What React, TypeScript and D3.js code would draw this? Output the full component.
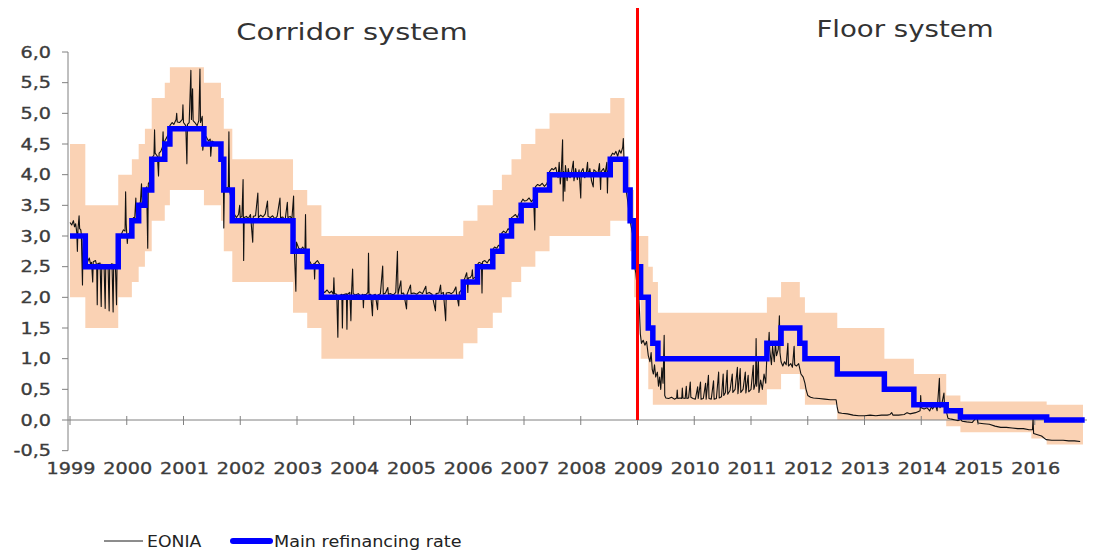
import React from 'react';
import * as d3 from 'd3';

// ---------- data (decimal years) ----------
const YEARS = [1999, 2000, 2001, 2002, 2003, 2004, 2005, 2006, 2007, 2008, 2009, 2010, 2011, 2012, 2013, 2014, 2015, 2016];
const Y_TICKS = [-0.5, 0, 0.5, 1, 1.5, 2, 2.5, 3, 3.5, 4, 4.5, 5, 5.5, 6];
const END_DATE = 2016.85;
const REGIME_CHANGE = 2009.0;
const TITLES = ['Corridor system', 'Floor system'];
const LEGEND = ['EONIA', 'Main refinancing rate'];

const CORRIDOR_DATES = [1999.0, 1999.27, 1999.85, 2000.09, 2000.21, 2000.32, 2000.44, 2000.67, 2000.76, 2001.36, 2001.66, 2001.71, 2001.86, 2002.93, 2003.18, 2003.43, 2005.93, 2006.18, 2006.45, 2006.61, 2006.78, 2006.95, 2007.2, 2007.45, 2008.52, 2008.77, 2008.87, 2008.94, 2009.055, 2009.19, 2009.27, 2009.36, 2011.28, 2011.53, 2011.86, 2011.95, 2012.52, 2013.35, 2013.87, 2014.44, 2014.69, 2015.94, 2016.21];
const DEPOSIT_RATE = [2.0, 1.5, 2.0, 2.25, 2.5, 2.75, 3.25, 3.5, 3.75, 3.5, 3.25, 2.75, 2.25, 1.75, 1.5, 1.0, 1.25, 1.5, 1.75, 2.0, 2.25, 2.5, 2.75, 3.0, 3.25, 3.25, 2.75, 2.0, 1.0, 0.5, 0.25, 0.25, 0.5, 0.75, 0.5, 0.25, 0.0, 0.0, 0.0, -0.1, -0.2, -0.3, -0.4];
const LENDING_RATE = [4.5, 3.5, 4.0, 4.25, 4.5, 4.75, 5.25, 5.5, 5.75, 5.5, 5.25, 4.75, 4.25, 3.75, 3.5, 3.0, 3.25, 3.5, 3.75, 4.0, 4.25, 4.5, 4.75, 5.0, 5.25, 4.25, 3.75, 3.0, 3.0, 2.5, 2.25, 1.75, 2.0, 2.25, 2.0, 1.75, 1.5, 1.0, 0.75, 0.4, 0.3, 0.3, 0.25];

const MRO_DATES = [1999.0, 1999.27, 1999.85, 2000.09, 2000.21, 2000.32, 2000.44, 2000.67, 2000.76, 2001.36, 2001.66, 2001.71, 2001.86, 2002.93, 2003.18, 2003.43, 2005.93, 2006.18, 2006.45, 2006.61, 2006.78, 2006.95, 2007.2, 2007.45, 2008.52, 2008.79, 2008.87, 2008.94, 2009.055, 2009.19, 2009.27, 2009.36, 2011.28, 2011.53, 2011.86, 2011.95, 2012.52, 2013.35, 2013.87, 2014.44, 2014.69, 2016.21];
const MRO_RATE = [3.0, 2.5, 3.0, 3.25, 3.5, 3.75, 4.25, 4.5, 4.75, 4.5, 4.25, 3.75, 3.25, 2.75, 2.5, 2.0, 2.25, 2.5, 2.75, 3.0, 3.25, 3.5, 3.75, 4.0, 4.25, 3.75, 3.25, 2.5, 2.0, 1.5, 1.25, 1.0, 1.25, 1.5, 1.25, 1.0, 0.75, 0.5, 0.25, 0.15, 0.05, 0.0];

const EONIA: [number, number][] = [
  [1999.00, 3.22], [1999.03, 3.18], [1999.06, 3.25], [1999.08, 3.15], [1999.10, 3.20], [1999.12, 3.05], [1999.13, 2.75], [1999.14, 3.10], [1999.16, 3.33], [1999.17, 3.12], [1999.19, 3.10], [1999.20, 3.02], [1999.22, 2.20], [1999.23, 2.95], [1999.26, 2.85],
  [1999.28, 2.62], [1999.31, 2.58], [1999.34, 2.64], [1999.36, 2.55], [1999.38, 2.57], [1999.40, 2.25], [1999.41, 2.58], [1999.45, 2.60], [1999.47, 2.52], [1999.48, 1.88], [1999.49, 2.55], [1999.53, 2.56], [1999.55, 1.85], [1999.56, 2.54], [1999.60, 2.52], [1999.62, 1.82], [1999.63, 2.50], [1999.67, 2.53], [1999.69, 1.78], [1999.70, 2.52], [1999.74, 2.55], [1999.76, 1.76], [1999.77, 2.54], [1999.80, 2.52], [1999.82, 1.88], [1999.83, 2.60],
  [1999.86, 3.00], [1999.90, 3.02], [1999.94, 3.10], [1999.97, 3.08], [1999.98, 3.72], [1999.99, 3.20], [2000.01, 2.88], [2000.02, 3.02], [2000.05, 3.05],
  [2000.09, 3.25], [2000.12, 3.30], [2000.14, 3.28], [2000.16, 3.62], [2000.17, 3.30], [2000.21, 3.50], [2000.24, 3.55], [2000.26, 3.85], [2000.27, 3.52], [2000.30, 3.58], [2000.32, 3.75], [2000.35, 3.80], [2000.37, 2.80], [2000.38, 3.85], [2000.41, 3.90], [2000.43, 4.00],
  [2000.45, 4.28], [2000.48, 4.32], [2000.49, 4.73], [2000.50, 4.35], [2000.54, 4.30], [2000.56, 3.98], [2000.57, 4.35], [2000.60, 4.38], [2000.63, 4.45], [2000.64, 4.70], [2000.65, 4.45], [2000.67, 4.55], [2000.70, 4.60], [2000.73, 4.65],
  [2000.76, 4.80], [2000.80, 4.85], [2000.83, 4.82], [2000.87, 4.90], [2000.88, 5.00], [2000.89, 4.86], [2000.93, 4.85], [2000.98, 4.90], [2000.99, 5.14], [2001.00, 4.85], [2001.04, 4.80], [2001.06, 4.18], [2001.07, 4.82], [2001.10, 4.85], [2001.13, 5.70], [2001.14, 4.90], [2001.16, 5.40], [2001.17, 4.88], [2001.20, 4.85], [2001.24, 4.80], [2001.27, 4.88], [2001.29, 5.72], [2001.30, 4.85], [2001.33, 4.95], [2001.34, 4.40],
  [2001.36, 4.60], [2001.40, 4.62], [2001.44, 4.55], [2001.47, 4.58], [2001.48, 4.30], [2001.50, 4.55], [2001.55, 4.52], [2001.60, 4.48], [2001.63, 4.50], [2001.66, 4.30], [2001.68, 4.28], [2001.70, 4.25], [2001.71, 3.13], [2001.72, 3.80], [2001.76, 3.78], [2001.79, 3.80], [2001.80, 4.70], [2001.81, 3.75], [2001.84, 3.60],
  [2001.86, 3.40], [2001.90, 3.35], [2001.93, 3.30], [2001.97, 3.35], [2001.99, 3.50], [2002.00, 3.30], [2002.03, 3.32], [2002.05, 3.92], [2002.06, 2.60], [2002.07, 3.30], [2002.11, 3.32], [2002.14, 3.28], [2002.18, 3.35], [2002.22, 2.90], [2002.23, 3.32], [2002.27, 3.33], [2002.31, 3.70], [2002.32, 3.30], [2002.36, 3.34], [2002.40, 3.31], [2002.44, 3.36], [2002.48, 3.57], [2002.49, 3.32], [2002.53, 3.30], [2002.57, 3.33], [2002.61, 3.28], [2002.65, 3.32], [2002.70, 3.62], [2002.71, 3.30], [2002.75, 3.31], [2002.79, 3.25], [2002.83, 3.55], [2002.84, 3.30], [2002.88, 3.32], [2002.91, 3.28],
  [2002.94, 3.65], [2002.95, 2.85], [2002.98, 2.10], [2002.99, 2.90], [2003.03, 2.80], [2003.07, 2.78], [2003.10, 2.82], [2003.14, 2.76], [2003.15, 3.35], [2003.16, 2.70],
  [2003.19, 2.55], [2003.23, 2.58], [2003.26, 2.52], [2003.30, 2.55], [2003.31, 2.30], [2003.32, 2.56], [2003.36, 2.60], [2003.40, 2.54],
  [2003.43, 2.20], [2003.45, 2.10], [2003.49, 2.08], [2003.53, 2.12], [2003.57, 2.07], [2003.61, 2.10], [2003.64, 2.05], [2003.65, 2.32], [2003.66, 2.06], [2003.70, 2.05], [2003.72, 1.35], [2003.73, 2.02], [2003.79, 2.05], [2003.80, 1.50], [2003.81, 2.04], [2003.87, 2.06], [2003.88, 1.48], [2003.89, 2.05], [2003.93, 2.08], [2003.95, 1.62], [2003.96, 2.05], [2003.98, 2.46], [2003.99, 2.06],
  [2004.03, 2.04], [2004.08, 2.06], [2004.12, 2.02], [2004.16, 2.05], [2004.17, 1.83], [2004.18, 2.04], [2004.22, 2.05], [2004.25, 2.08], [2004.26, 2.72], [2004.27, 2.04], [2004.30, 2.05], [2004.33, 1.70], [2004.34, 2.03], [2004.38, 2.05], [2004.42, 1.80], [2004.43, 2.04], [2004.47, 2.06], [2004.51, 2.51], [2004.52, 2.05], [2004.56, 2.07], [2004.60, 2.16], [2004.61, 2.05], [2004.65, 2.06], [2004.70, 2.04], [2004.74, 2.08], [2004.77, 2.75], [2004.78, 2.05], [2004.83, 2.27], [2004.84, 2.06], [2004.88, 2.07], [2004.93, 1.81], [2004.94, 2.05],
  [2005.00, 2.20], [2005.01, 2.06], [2005.06, 2.07], [2005.11, 2.05], [2005.16, 2.09], [2005.21, 2.06], [2005.27, 2.18], [2005.28, 2.06], [2005.33, 2.08], [2005.38, 2.05], [2005.44, 1.78], [2005.45, 2.06], [2005.50, 2.07], [2005.53, 2.20], [2005.54, 2.06], [2005.58, 2.08], [2005.62, 1.62], [2005.63, 2.07], [2005.68, 2.08], [2005.72, 2.06], [2005.76, 2.09], [2005.80, 2.17], [2005.81, 2.07], [2005.85, 1.86], [2005.86, 2.08], [2005.90, 2.12],
  [2005.93, 2.25], [2005.96, 2.32], [2005.99, 2.40], [2006.00, 2.30], [2006.01, 2.08], [2006.02, 2.32], [2006.05, 2.32], [2006.08, 2.36], [2006.09, 2.45], [2006.10, 2.30], [2006.14, 2.33], [2006.17, 2.38],
  [2006.19, 2.55], [2006.21, 2.57], [2006.25, 2.55], [2006.26, 2.07], [2006.27, 2.58], [2006.31, 2.60], [2006.35, 2.56], [2006.39, 2.62], [2006.42, 2.58],
  [2006.45, 2.78], [2006.48, 2.82], [2006.52, 2.80], [2006.55, 2.85], [2006.58, 2.83], [2006.61, 3.05], [2006.64, 3.08], [2006.68, 3.05], [2006.72, 3.12], [2006.75, 3.09],
  [2006.78, 3.30], [2006.81, 3.32], [2006.85, 3.35], [2006.88, 3.30], [2006.92, 3.38], [2006.95, 3.55], [2006.98, 3.60], [2007.01, 3.57], [2007.05, 3.58], [2007.09, 3.62], [2007.13, 3.56], [2007.17, 3.60], [2007.19, 3.10],
  [2007.20, 3.80], [2007.24, 3.84], [2007.28, 3.82], [2007.32, 3.86], [2007.36, 3.81], [2007.40, 3.85], [2007.43, 3.92],
  [2007.45, 4.05], [2007.49, 4.10], [2007.52, 4.08], [2007.56, 4.12], [2007.60, 3.95], [2007.62, 4.20], [2007.64, 3.85], [2007.66, 4.10], [2007.68, 4.57], [2007.69, 3.57], [2007.70, 4.05], [2007.72, 3.73], [2007.73, 4.15], [2007.76, 3.90], [2007.78, 4.10], [2007.81, 3.95], [2007.84, 4.05], [2007.87, 4.22], [2007.88, 3.90], [2007.91, 4.10], [2007.94, 3.92], [2007.97, 4.08],
  [2008.00, 3.62], [2008.01, 4.05], [2008.04, 4.10], [2008.07, 3.95], [2008.10, 4.05], [2008.12, 4.20], [2008.13, 3.98], [2008.16, 4.10], [2008.19, 3.90], [2008.22, 3.80], [2008.23, 4.08], [2008.27, 4.05], [2008.30, 4.00], [2008.33, 4.18], [2008.35, 3.76], [2008.36, 4.05], [2008.40, 4.10], [2008.43, 4.02], [2008.46, 4.20], [2008.47, 3.70], [2008.48, 4.05], [2008.51, 4.15],
  [2008.53, 4.30], [2008.56, 4.35], [2008.59, 4.33], [2008.62, 4.38], [2008.65, 4.30], [2008.68, 4.40], [2008.71, 4.35], [2008.74, 4.45], [2008.75, 4.59], [2008.76, 4.30], [2008.78, 3.90], [2008.80, 3.75], [2008.83, 3.55], [2008.86, 3.30], [2008.89, 3.15], [2008.92, 3.00], [2008.95, 2.50], [2008.97, 2.40], [2008.99, 2.20],
  [2009.01, 2.30], [2009.03, 1.90], [2009.05, 1.40], [2009.07, 1.25], [2009.10, 1.30], [2009.13, 1.22], [2009.16, 1.28], [2009.19, 1.05], [2009.22, 0.95], [2009.24, 1.10], [2009.26, 0.82], [2009.28, 0.75], [2009.30, 0.90], [2009.32, 0.70], [2009.35, 0.78], [2009.37, 0.55], [2009.39, 0.70], [2009.41, 0.50], [2009.43, 0.85], [2009.45, 0.60], [2009.47, 1.38], [2009.48, 0.40], [2009.50, 0.36],
  [2009.55, 0.35], [2009.60, 0.37], [2009.65, 0.34], [2009.69, 0.36], [2009.70, 0.49], [2009.71, 0.35], [2009.75, 0.36], [2009.78, 0.35], [2009.79, 0.52], [2009.80, 0.36], [2009.84, 0.35], [2009.86, 0.55], [2009.87, 0.35], [2009.90, 0.36], [2009.93, 0.62], [2009.94, 0.37], [2009.98, 0.35],
  [2010.02, 0.34], [2010.06, 0.54], [2010.07, 0.35], [2010.11, 0.62], [2010.12, 0.34], [2010.16, 0.35], [2010.20, 0.60], [2010.21, 0.34], [2010.25, 0.73], [2010.26, 0.35], [2010.30, 0.34], [2010.34, 0.64], [2010.35, 0.34], [2010.39, 0.35], [2010.43, 0.78], [2010.44, 0.36], [2010.48, 0.38], [2010.51, 0.75], [2010.52, 0.40], [2010.55, 0.45], [2010.58, 0.81], [2010.59, 0.42], [2010.63, 0.48], [2010.67, 0.75], [2010.68, 0.45], [2010.72, 0.50], [2010.76, 0.86], [2010.77, 0.43], [2010.81, 0.84], [2010.82, 0.45], [2010.86, 0.50], [2010.90, 0.78], [2010.91, 0.44], [2010.95, 0.73], [2010.96, 0.46],
  [2011.00, 0.50], [2011.04, 0.89], [2011.05, 0.50], [2011.08, 0.60], [2011.09, 1.33], [2011.10, 0.55], [2011.13, 1.00], [2011.14, 0.45], [2011.17, 0.65], [2011.20, 0.50], [2011.23, 0.75], [2011.26, 0.60], [2011.28, 1.05], [2011.30, 1.10], [2011.32, 1.43], [2011.33, 1.15], [2011.36, 0.90], [2011.38, 1.20], [2011.41, 0.95], [2011.43, 1.25], [2011.45, 1.05], [2011.48, 1.15], [2011.50, 1.70], [2011.51, 1.10], [2011.53, 0.95], [2011.56, 0.88], [2011.59, 0.95], [2011.62, 0.90], [2011.65, 1.25], [2011.66, 0.88], [2011.70, 0.92], [2011.73, 0.86], [2011.76, 1.20], [2011.77, 0.90], [2011.80, 0.88], [2011.84, 0.92], [2011.88, 0.75], [2011.92, 0.70], [2011.95, 0.60], [2011.97, 0.50],
  [2012.00, 0.40], [2012.05, 0.37], [2012.10, 0.36], [2012.20, 0.35], [2012.30, 0.34], [2012.40, 0.33], [2012.50, 0.33], [2012.52, 0.20], [2012.54, 0.12], [2012.60, 0.11], [2012.70, 0.10], [2012.80, 0.08], [2012.90, 0.07],
  [2013.00, 0.07], [2013.10, 0.08], [2013.20, 0.07], [2013.30, 0.08], [2013.40, 0.08], [2013.45, 0.09], [2013.48, 0.12], [2013.50, 0.08], [2013.60, 0.08], [2013.70, 0.09], [2013.75, 0.12], [2013.80, 0.10], [2013.90, 0.12], [2013.98, 0.15], [2013.99, 0.40],
  [2014.00, 0.20], [2014.05, 0.18], [2014.10, 0.20], [2014.15, 0.15], [2014.18, 0.22], [2014.20, 0.18], [2014.25, 0.25], [2014.28, 0.15], [2014.32, 0.68], [2014.33, 0.20], [2014.36, 0.25], [2014.40, 0.44], [2014.41, 0.22], [2014.44, 0.15], [2014.47, 0.03],
  [2014.50, 0.02], [2014.55, 0.01], [2014.60, 0.00], [2014.65, -0.01], [2014.70, 0.01], [2014.72, -0.02], [2014.80, -0.03], [2014.90, -0.04], [2014.98, 0.05],
  [2015.00, -0.05], [2015.10, -0.06], [2015.20, -0.07], [2015.30, -0.10], [2015.40, -0.12], [2015.50, -0.12], [2015.60, -0.13], [2015.70, -0.14], [2015.80, -0.14], [2015.90, -0.16], [2015.96, -0.16], [2015.97, 0.03], [2015.98, -0.22],
  [2016.05, -0.24], [2016.12, -0.26], [2016.20, -0.32], [2016.30, -0.33], [2016.40, -0.33], [2016.50, -0.33], [2016.60, -0.34], [2016.70, -0.34], [2016.80, -0.35],
];

// ---------- styling ----------
const FONT = "'DejaVu Sans', Verdana, sans-serif";
const BAND = '#FAD2B4';
const AXIS = '#808080';
const TEXT = '#3c3c3c';
const SX = 1.2; // horizontal text stretch of the original

export default function App() {
  const width = 1096;
  const height = 552;
  const x = d3.scaleLinear().domain([1999, 2016]).range([70, 1034.75]);
  const y = d3.scaleLinear().domain([-0.5, 6]).range([450.67, 52]);

  type Row = { t: number; lo: number; hi: number };
  const bandRows: Row[] = CORRIDOR_DATES.map((t, i) => ({ t, lo: DEPOSIT_RATE[i], hi: LENDING_RATE[i] }));
  bandRows.push({ t: END_DATE, lo: DEPOSIT_RATE[DEPOSIT_RATE.length - 1], hi: LENDING_RATE[LENDING_RATE.length - 1] });
  const bandPath = d3.area<Row>().curve(d3.curveStepAfter).x(d => x(d.t)).y0(d => y(d.lo)).y1(d => y(d.hi))(bandRows) || '';

  const mroRows: [number, number][] = MRO_DATES.map((t, i) => [t, MRO_RATE[i]] as [number, number]);
  mroRows.push([END_DATE + 0.03, MRO_RATE[MRO_RATE.length - 1]]);
  const mroPath = d3.line<[number, number]>().curve(d3.curveStepAfter).x(d => x(d[0])).y(d => y(d[1]))(mroRows) || '';

  const eoniaPath = d3.line<[number, number]>().x(d => x(d[0])).y(d => y(d[1]))(EONIA) || '';

  const x0 = 68;
  const yZero = y(0);
  const fmt = (v: number) => v.toFixed(1).replace('.', ',');

  return (
    <svg width={width} height={height} style={{ position: 'absolute', left: 0, top: 0, background: '#fff' }} fontFamily={FONT}>
      <rect x={0} y={0} width={width} height={height} fill="#fff" />
      <path d={bandPath} fill={BAND} />

      {/* axes */}
      <line x1={x0} x2={x0} y1={y(6)} y2={y(-0.5)} stroke={AXIS} strokeWidth={1} />
      {Y_TICKS.map(v => (
        <g key={'yt' + v}>
          <line x1={x0 - 6} x2={x0} y1={y(v)} y2={y(v)} stroke={AXIS} strokeWidth={1} />
          <text transform={`translate(${51},${y(v) + 5.5}) scale(${SX},1)`} textAnchor="end" fontSize={16} fill={TEXT} stroke={TEXT} strokeWidth={0.35}>{fmt(v)}</text>
        </g>
      ))}
      <line x1={x0} x2={x(END_DATE) + 4} y1={yZero} y2={yZero} stroke={AXIS} strokeWidth={1} />
      {YEARS.map(yr => (
        <g key={'xt' + yr}>
          <line x1={x(yr)} x2={x(yr)} y1={yZero - 4} y2={yZero + 5} stroke={AXIS} strokeWidth={1} />
          <text transform={`translate(${x(yr) + 1},${474}) scale(${SX},1)`} textAnchor="middle" fontSize={16} fill={TEXT} stroke={TEXT} strokeWidth={0.35}>{yr}</text>
        </g>
      ))}

      <path d={eoniaPath} fill="none" stroke="#111" strokeWidth={1.1} strokeLinejoin="round" />
      <path d={mroPath} fill="none" stroke="#0000FF" strokeWidth={5.5} strokeLinejoin="miter" />

      {/* regime change */}
      <line x1={x(REGIME_CHANGE)} x2={x(REGIME_CHANGE)} y1={8} y2={yZero} stroke="#FF0000" strokeWidth={3} />

      {/* titles */}
      <text transform={`translate(${352},${40}) scale(1.26,1)`} textAnchor="middle" fontSize={23} fill="#333">{TITLES[0]}</text>
      <text transform={`translate(${905},${37}) scale(${SX},1)`} textAnchor="middle" fontSize={23} fill="#333">{TITLES[1]}</text>

      {/* legend */}
      <line x1={104} x2={143} y1={541} y2={541} stroke="#1a1a1a" strokeWidth={1} />
      <text transform={`translate(${147},${547}) scale(1.08,1)`} fontSize={16} fill="#222">{LEGEND[0]}</text>
      <line x1={233} x2={270} y1={541} y2={541} stroke="#0000FF" strokeWidth={6} strokeLinecap="round" />
      <text transform={`translate(${274},${547}) scale(1.1,1)`} fontSize={16} fill="#222">{LEGEND[1]}</text>
    </svg>
  );
}
